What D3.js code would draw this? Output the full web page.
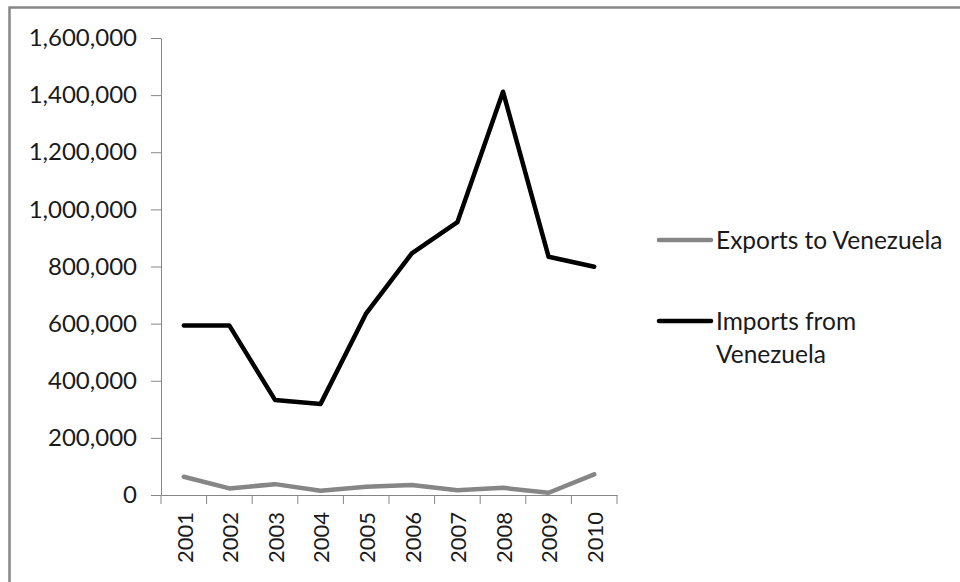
<!DOCTYPE html>
<html>
<head>
<meta charset="utf-8">
<script src="https://cdn.jsdelivr.net/npm/d3@7"></script>
<style>
  body { margin: 0; background: #fff; }
  svg text { font-family: Lato, "Open Sans", sans-serif; fill: #1a1a1a; }
</style>
</head>
<body>
<div id="chart"></div>
<script>
const years = ["2001", "2002", "2003", "2004", "2005", "2006", "2007", "2008", "2009", "2010"];
const exportsVals = [64000, 23000, 38000, 15000, 29000, 35000, 17000, 25000, 8000, 72000];
const importsVals = [593000, 593000, 333000, 319000, 636000, 846000, 955000, 1412000, 834000, 799000];
const yTicks = [0, 200000, 400000, 600000, 800000, 1000000, 1200000, 1400000, 1600000];
const seriesNames = ["Exports to Venezuela", "Imports from Venezuela"];
const seriesColors = ["#868686", "#000000"];

const width = 960, height = 582;
const margin = { left: 161, right: 343, top: 38, bottom: 87 };

const svg = d3.select("#chart")
  .append("svg")
  .attr("width", width)
  .attr("height", height);

// outer chart frame, runs off the right and bottom edges
svg.append("rect")
  .attr("x", 9.5).attr("y", 7.5)
  .attr("width", 960).attr("height", 600)
  .attr("fill", "none")
  .attr("stroke", "#868686")
  .attr("stroke-width", 2.5);

const x = d3.scaleBand()
  .domain(years)
  .range([margin.left, width - margin.right]);

const y = d3.scaleLinear()
  .domain([0, 1600000])
  .range([height - margin.bottom, margin.top]);

const fmt = d3.format(",");

const yAxis = svg.append("g")
  .attr("transform", `translate(${margin.left},0)`)
  .call(d3.axisLeft(y).tickValues(yTicks).tickFormat(fmt).tickSize(10).tickSizeOuter(0).tickPadding(14));
yAxis.select(".domain").attr("stroke", "#868686");
yAxis.selectAll(".tick line").attr("stroke", "#868686");
yAxis.selectAll(".tick text").attr("font-size", 24).attr("fill", "#1a1a1a").attr("font-family", "Lato, sans-serif");

const xAxis = svg.append("g")
  .attr("transform", `translate(0,${y(0)})`)
  .call(d3.axisBottom(x).tickSize(0).tickSizeOuter(0));
xAxis.select(".domain").attr("stroke", "#868686");
xAxis.selectAll(".tick text")
  .attr("font-size", 22)
  .attr("fill", "#1a1a1a")
  .attr("font-family", "Lato, sans-serif")
  .attr("transform", "rotate(-90)")
  .attr("text-anchor", "end")
  .attr("x", -17)
  .attr("y", 1)
  .attr("dy", "0.35em");

// tick marks between categories
const bounds = years.map((d) => x(d)).concat([x.range()[1]]);
xAxis.selectAll(".sep")
  .data(bounds)
  .enter()
  .append("line")
  .attr("class", "sep")
  .attr("x1", (d) => d).attr("x2", (d) => d)
  .attr("y1", 0).attr("y2", 9)
  .attr("stroke", "#868686");

const line = d3.line()
  .x((d, i) => x(years[i]) + x.bandwidth() / 2)
  .y((d) => y(d));

[exportsVals, importsVals].forEach((vals, i) => {
  svg.append("path")
    .datum(vals)
    .attr("d", line)
    .attr("fill", "none")
    .attr("stroke", seriesColors[i])
    .attr("stroke-width", 4.5)
    .attr("stroke-linejoin", "round")
    .attr("stroke-linecap", "round");
});

// legend
const legendRows = [
  { lines: ["Exports to Venezuela"], y: 240 },
  { lines: ["Imports from", "Venezuela"], y: 321 }
];
legendRows.forEach((row, i) => {
  svg.append("line")
    .attr("x1", 659).attr("x2", 711)
    .attr("y1", row.y).attr("y2", row.y)
    .attr("stroke", seriesColors[i])
    .attr("stroke-width", 4.5)
    .attr("stroke-linecap", "round");
  const t = svg.append("text")
    .attr("x", 716)
    .attr("y", row.y)
    .attr("font-size", 24.5);
  row.lines.forEach((s, j) => {
    t.append("tspan").attr("x", 716).attr("dy", j === 0 ? "0.35em" : 33).text(s);
  });
});
</script>
</body>
</html>
